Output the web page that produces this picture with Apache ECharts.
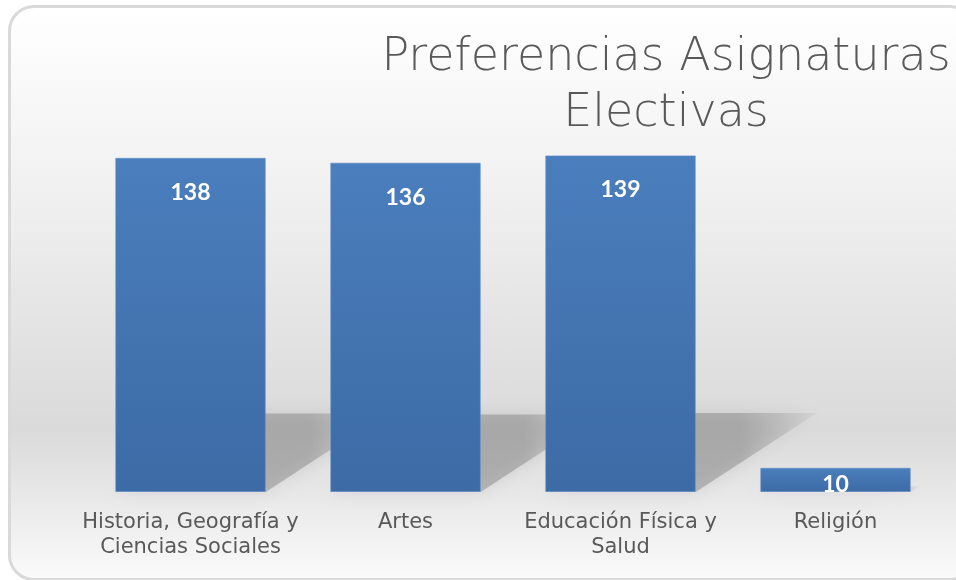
<!DOCTYPE html>
<html>
<head>
<meta charset="utf-8">
<script src="https://cdn.jsdelivr.net/npm/echarts@6/dist/echarts.min.js"></script>
<style>
  html, body { margin: 0; padding: 0; width: 956px; height: 580px; overflow: hidden; background: #ffffff; }
  #card {
    position: absolute; left: 8px; top: 5px; width: 962px; height: 570px;
    border: 3px solid #d9d9d9; border-radius: 26px;
    background: linear-gradient(to bottom, #ffffff 0%, #efefef 35%, #dadada 74%, #ebebeb 88%, #fafafa 100%);
  }
  #chart { position: absolute; left: 0; top: 0; width: 956px; height: 580px; }
</style>
</head>
<body>
<div id="card"></div>
<div id="chart"></div>
<script>
const titleLines = ['Preferencias Asignaturas', 'Electivas'];
const categories = ['Historia, Geografía y\nCiencias Sociales', 'Artes', 'Educación Física y\nSalud', 'Religión'];
const values = [138, 136, 139, 10];

const chart = echarts.init(document.getElementById('chart'), null, { renderer: 'canvas' });

const barData = values.map(v => ({
  value: v,
  label: v < 20 ? { position: 'insideTop', distance: 5 } : undefined
}));
const shadowData = values.map((v, i) => [i, v]);

chart.setOption({
  backgroundColor: 'transparent',
  animation: false,
  title: {
    text: titleLines.join('\n'),
    left: 661,
    top: 25,
    textAlign: 'center',
    textStyle: {
      fontFamily: 'DejaVu Sans',
      fontWeight: 300,
      fontSize: 46,
      lineHeight: 56,
      color: '#595959'
    }
  },
  grid: { left: 83, right: 13, top: 153, bottom: 88, containLabel: false },
  xAxis: {
    type: 'category',
    data: categories,
    axisLine: { show: false },
    axisTick: { show: false },
    axisLabel: {
      margin: 18,
      fontFamily: 'DejaVu Sans',
      fontSize: 21,
      lineHeight: 25,
      color: '#595959',
      interval: 0
    }
  },
  yAxis: {
    type: 'value',
    min: 0,
    max: 140,
    show: false,
    splitLine: { show: false }
  },
  series: [
    {
      type: 'custom',
      z: 1,
      silent: true,
      clip: false,
      data: shadowData,
      encode: { x: 0, y: 1 },
      renderItem: function (params, api) {
        const idx = api.value(0);
        const base = api.coord([idx, 0]);
        const top = api.coord([idx, api.value(1)]);
        const bw = api.size([1, 0])[0] * 0.7;
        const h = (base[1] - top[1]);
        const sh = h * 0.235;
        const dx = h * 0.36;
        const x0 = base[0] - bw / 2, x1 = base[0] + bw / 2, y = base[1];
        return {
          type: 'polygon',
          shape: { points: [[x0, y], [x1, y], [x1 + dx, y - sh], [x0 + dx, y - sh]] },
          style: {
            fill: new echarts.graphic.LinearGradient(0, 0, 1, 0, [
              { offset: 0, color: 'rgba(120,120,120,0.42)' },
              { offset: 0.72, color: 'rgba(120,120,120,0.42)' },
              { offset: 1, color: 'rgba(120,120,120,0.08)' }
            ]),
            shadowBlur: 16,
            shadowColor: 'rgba(120,120,120,0.4)'
          }
        };
      }
    },
    {
      type: 'bar',
      z: 2,
      data: barData,
      barWidth: '70%',
      itemStyle: {
        color: new echarts.graphic.LinearGradient(0, 0, 0, 1, [
          { offset: 0, color: '#4b7ebd' },
          { offset: 1, color: '#3c6ba5' }
        ]),
        borderColor: 'rgba(90,140,200,0.6)',
        borderWidth: 1
      },
      label: {
        show: true,
        position: 'insideTop',
        distance: 23,
        color: '#ffffff',
        fontFamily: 'Lato',
        fontWeight: 'bold',
        fontSize: 23
      }
    }
  ]
});
</script>
</body>
</html>
